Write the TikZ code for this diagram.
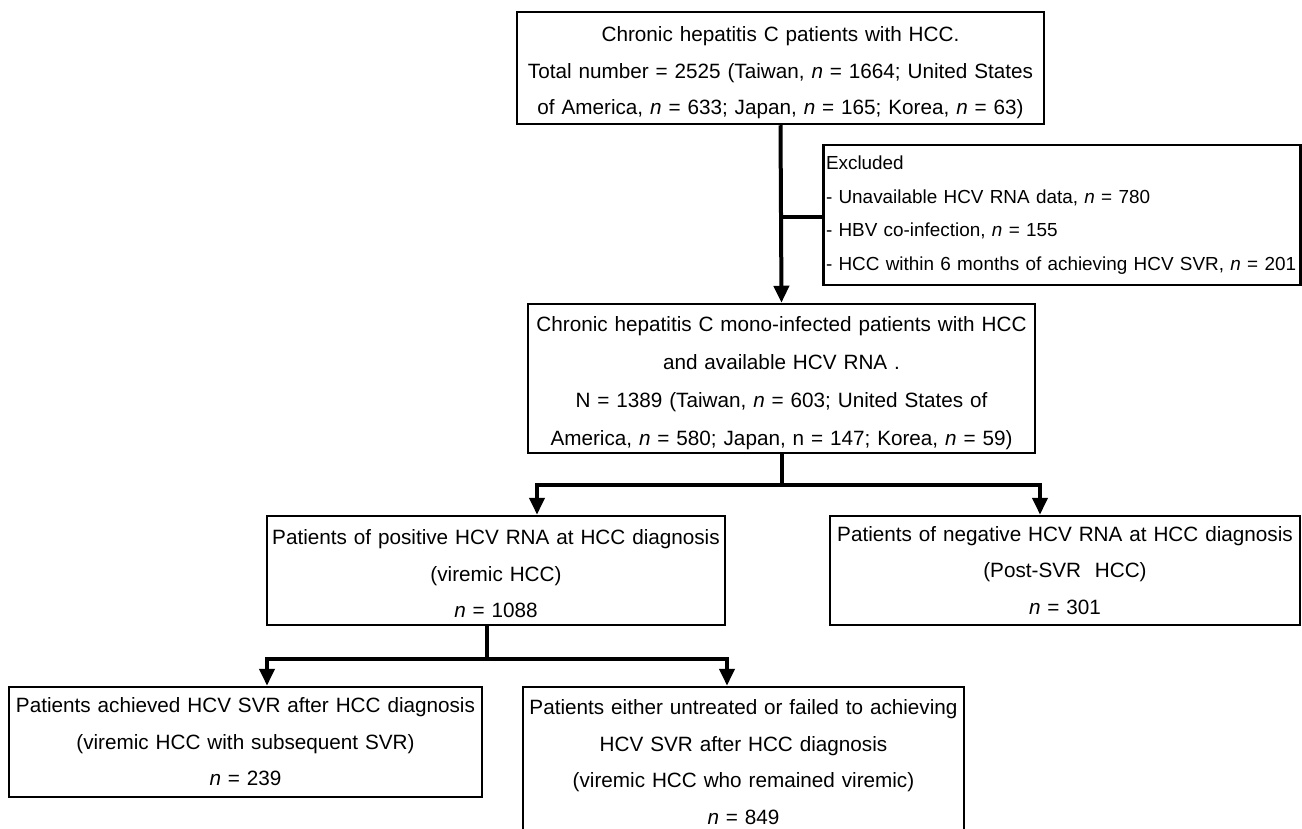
\documentclass[tikz,border=0pt]{standalone}
\usepackage{fontspec}
\setmainfont{Liberation Sans}
\usetikzlibrary{arrows.meta,calc}
\begin{document}
\begin{tikzpicture}[x=1pt,y=-1pt,
  box/.style={draw, line width=2.5pt, align=center, inner sep=0pt, font=\fontsize{20.7}{36.5}\selectfont},
  exbox/.style={draw, line width=2.5pt, align=left, inner sep=0pt, font=\fontsize{18.9}{33.5}\selectfont},
  conn/.style={line width=4pt},
  arr/.style={conn, -{Triangle[width=15pt,length=17pt]}}]
\useasboundingbox[fill=white] (0,0) rectangle (1302,829);

\node[box, minimum width=527pt, minimum height=112pt, text width=525pt] (top) at (780.5,68)
  {\rule{0pt}{25pt}Chronic hepatitis C patients with HCC.\\
   Total number = 2525 (Taiwan, \textit{n} = 1664; United States\\
   of America, \textit{n} = 633; Japan, \textit{n} = 165; Korea, \textit{n} = 63)};

\node[exbox, minimum width=477pt, minimum height=140pt, text width=472pt] (excl) at (1062,215)
  {Excluded\\
   - Unavailable HCV RNA data, \textit{n} = 780\\
   - HBV co-infection, \textit{n} = 155\\
   - HCC within 6 months of achieving HCV SVR, \textit{n} = 201};

\node[box, font=\fontsize{20.7}{38}\selectfont, minimum width=507pt, minimum height=149pt, text width=505pt] (mid) at (781.5,378.5)
  {\rule{0pt}{25pt}Chronic hepatitis C mono-infected patients with HCC\\
   and available HCV RNA .\\
   N = 1389 (Taiwan, \textit{n} = 603; United States of\\
   America, \textit{n} = 580; Japan, n = 147; Korea, \textit{n} = 59)};

\node[box, minimum width=458pt, minimum height=109pt, text width=456pt] (pos) at (496,570.5)
  {\rule{0pt}{22pt}Patients of positive HCV RNA at HCC diagnosis\\
   (viremic HCC)\\
   \textit{n} = 1088};

\node[box, minimum width=470pt, minimum height=109pt, text width=468pt] (neg) at (1065,570.5)
  {Patients of negative HCV RNA at HCC diagnosis\\
   (Post-SVR\ \ HCC)\\
   \textit{n} = 301};

\node[box, minimum width=473pt, minimum height=110pt, text width=471pt] (svr) at (245.5,742)
  {Patients achieved HCV SVR after HCC diagnosis\\
   (viremic HCC with subsequent SVR)\\
   \textit{n} = 239};

\node[box, minimum width=441pt, minimum height=150pt, text width=439pt] (vir) at (743.5,762)
  {Patients either untreated or failed to achieving\\
   HCV SVR after HCC diagnosis\\
   (viremic HCC who remained viremic)\\
   \textit{n} = 849};

% connectors
\draw[arr] (top.south) -- (mid.north);
\draw[conn] ([yshift=-2pt]top.south |- excl.west) -- ([yshift=-2pt]excl.west);

\coordinate (j1) at ($(mid.south)+(0,31)$);
\draw[conn] (mid.south) -- (j1);
\draw[arr] (j1) -| ([xshift=41pt]pos.north);
\draw[arr] (j1) -| ([xshift=-25pt]neg.north);

\coordinate (p1) at ([xshift=-9pt]pos.south);
\coordinate (j2) at ($(p1)+(0,33)$);
\draw[conn] (p1) -- (j2);
\draw[arr] (j2) -| ([xshift=21.5pt]svr.north);
\draw[arr] (j2) -| ([xshift=-16.5pt]vir.north);
\end{tikzpicture}
\end{document}
